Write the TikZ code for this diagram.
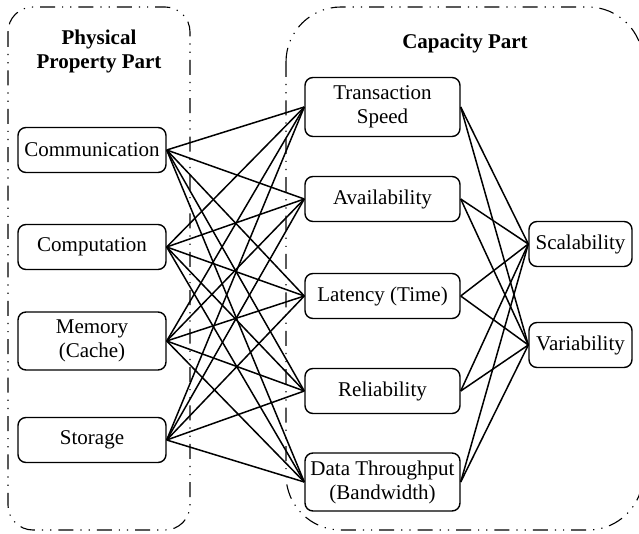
\documentclass[tikz,border=0pt]{standalone}
\usepackage{fontspec}
\setmainfont{Liberation Serif}
\newfontfamily\diagfont{Liberation Serif}
\begin{document}
\begin{tikzpicture}[x=1pt,y=-1pt,
  box/.style={draw,rounded corners=8pt,line width=1.4pt,inner sep=0pt,align=center,
    font=\diagfont\fontsize{21}{24}\selectfont},
  lbox/.style={box,minimum width=148pt,minimum height=45pt},
  rbox/.style={box,minimum width=155pt,minimum height=45pt},
  sbox/.style={box,minimum width=103pt,minimum height=45pt},
  title/.style={align=center,font=\diagfont\fontsize{21}{24}\selectfont\bfseries,inner sep=0pt},
  part/.style={line width=1.1pt,dash pattern=on 15pt off 7pt on 1.2pt off 7pt on 1.2pt off 7pt},
  link/.style={line width=1.5pt}]
\useasboundingbox (0,0) rectangle (639,534);
% containers
\draw[part,rounded corners=25pt] (8,7) rectangle (190,530);
\draw[part,rounded corners=55pt] (286,7) rectangle (643,530);
% titles
\node[title] (tl) at (99,51) {Physical\\Property Part};
\node[title] (tr) at (465,43) {Capacity Part};
% left boxes
\node[lbox] (comm) at (92,150) {Communication};
\node[lbox] (comp) at (92,247) {Computation};
\node[lbox,minimum height=58pt] (mem) at (92,341) {Memory\\(Cache)};
\node[lbox] (stor) at (92,440) {Storage};
% middle boxes
\node[rbox,minimum height=59pt] (ts) at (382.5,107) {Transaction\\Speed};
\node[rbox] (av) at (382.5,199) {Availability};
\node[rbox] (lat) at (382.5,296) {Latency (Time)};
\node[rbox] (rel) at (382.5,391) {Reliability};
\node[rbox,minimum height=58pt] (dt) at (382.5,482) {Data Throughput\\(Bandwidth)};
% right boxes
\node[sbox] (scal) at (580.5,244) {Scalability};
\node[sbox] (var) at (580.5,345) {Variability};
% links
\foreach \a in {comm,comp,mem,stor}
  \foreach \b in {ts,av,lat,rel,dt}
    \draw[link] (\a.east) -- (\b.west);
\foreach \a in {ts,av,lat,rel,dt}
  \foreach \b in {scal,var}
    \draw[link] (\a.east) -- (\b.west);
\end{tikzpicture}
\end{document}
